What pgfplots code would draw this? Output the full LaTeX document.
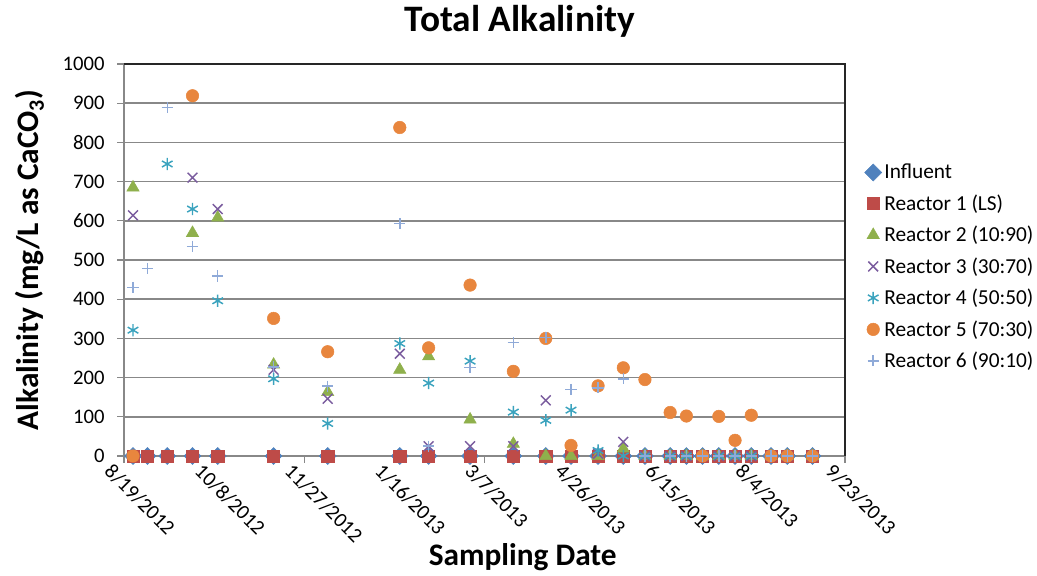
\documentclass[border=0pt]{standalone}
\usepackage{pgfplots}
\pgfplotsset{compat=1.18}
\usepackage{fontspec}
\setmainfont{Carlito}
\definecolor{cInf}{HTML}{4F81BD}
\definecolor{cR1}{HTML}{BE4B48}
\definecolor{cR2}{HTML}{8FB04C}
\definecolor{cR3}{HTML}{7A5C9E}
\definecolor{cR4}{HTML}{3BA3BE}
\definecolor{cR5}{HTML}{E8863E}
\definecolor{cR6}{HTML}{8FAAD8}
\definecolor{gridg}{HTML}{888888}
\begin{document}
\begin{tikzpicture}
\begin{axis}[
  scale only axis, width=540.75pt, height=294pt,
  xmin=0, xmax=400, ymin=0, ymax=1000,
  xtick={0,50,...,400},
  xticklabels={8/19/2012,10/8/2012,11/27/2012,1/16/2013,3/7/2013,4/26/2013,6/15/2013,8/4/2013,9/23/2013},
  ytick={0,100,...,1000},
  /pgf/number format/assume math mode=true,
  /pgf/number format/1000 sep={},
  tick label style={font=\fontsize{15.5}{17}\selectfont},
  xticklabel style={rotate=-45, anchor=north west, xshift=-9pt, yshift=-2pt},
  yticklabel style={xshift=-6pt},
  ymajorgrids, grid style={gridg, line width=1.3pt},
  axis line style={draw=none},
  tick style={gridg, line width=1pt},
  major tick length=5pt, tick align=outside,
  xtick pos=bottom, ytick pos=left,
  clip=false,
  xlabel={Sampling Date},
  ylabel={Alkalinity (mg/L as CaCO$_{\mathbf{3}}$)},
  label style={font=\bfseries\fontsize{23.5}{26}\selectfont},
  xlabel style={at={(rel axis cs:0.553,-0.258)}, anchor=center},
  ylabel style={yshift=7pt},
  legend style={draw=none, fill=none, at={(rel axis cs:1.027,0.752)}, anchor=north west,
    font=\fontsize{16}{18}\selectfont, row sep=6.4pt, inner sep=0pt},
  legend cell align=left,
  legend image code/.code={\draw[#1] (0.25cm,0cm) -- plot coordinates {(0.25cm,0cm)};},
]
\draw[gridg, line width=1.3pt] (rel axis cs:0,0) -- (rel axis cs:0,1);
\draw[gridg, line width=1.3pt] (rel axis cs:0,0) -- (rel axis cs:1,0);
\draw[black!85, line width=1.3pt] (rel axis cs:0,1) -- (rel axis cs:1,1) -- (rel axis cs:1,0);
\node[font=\bfseries\fontsize{28}{32}\selectfont] at (rel axis cs:0.549,1.108) {Total Alkalinity};

\addplot[only marks, mark=square*, mark options={rotate=45, fill=cInf, draw=cInf}, mark size=4.5pt] table {
x y
5 0
13 0
24 0
38 0
52 0
83 0
113 0
153 0
169 0
192 0
216 0
234 0
248 0
263 0
277 0
289 0
303 0
312 0
321 0
330 0
339 0
348 0
359 0
368 0
382 0
};
\addlegendentry{Influent}
\addplot[only marks, mark=square*, mark options={fill=cR1, draw=cR1, rounded corners=1.8pt}, mark size=4.6pt] table {
x y
5 0
13 0
24 0
38 0
52 0
83 0
113 0
153 0
169 0
192 0
216 0
234 0
248 0
263 0
277 0
289 0
303 0
312 0
321 0
330 0
339 0
348 0
359 0
368 0
382 0
};
\addlegendentry{Reactor 1 (LS)}
\addplot[only marks, mark=triangle*, mark options={fill=cR2, draw=cR2}, mark size=5.3pt] table {
x y
5 685
38 569
52 608
83 233
113 163
153 220
169 254
192 93
216 31
234 0
248 0
263 0
277 19
289 0
303 0
312 0
321 0
330 0
339 0
348 0
359 0
368 0
382 0
};
\addlegendentry{Reactor 2 (10:90)}
\addplot[only marks, mark=x, mark options={draw=cR3, line width=1.1pt}, mark size=5.2pt] table {
x y
5 614
38 710
52 630
83 220
113 146
153 261
169 25
192 25
216 25
234 142
263 6
277 36
289 0
303 0
312 0
321 0
330 0
339 0
348 0
359 0
368 0
382 0
};
\addlegendentry{Reactor 3 (30:70)}
\addplot[only marks, mark=asterisk, mark options={draw=cR4, line width=1.1pt}, mark size=4.6pt] table {
x y
5 321
24 745
38 630
52 396
83 197
113 83
153 287
169 186
192 242
216 112
234 91
248 117
263 14
277 0
289 0
303 0
312 0
321 0
330 0
339 0
348 0
359 0
368 0
382 0
};
\addlegendentry{Reactor 4 (50:50)}
\addplot[only marks, mark=*, mark options={fill=cR5, draw=cR5}, mark size=4.7pt] table {
x y
5 0
38 919
83 351
113 266
153 838
169 276
192 436
216 216
234 300
248 27
263 179
277 225
289 195
303 111
312 102
321 0
330 101
339 40
348 104
359 0
368 0
382 0
};
\addlegendentry{Reactor 5 (70:30)}
\addplot[only marks, mark=+, mark options={draw=cR6, line width=1.1pt}, mark size=4.2pt] table {
x y
5 430
13 478
24 889
38 535
52 459
83 227
113 178
153 593
169 25
192 226
216 289
234 302
248 170
263 174
277 197
289 0
303 0
312 0
321 0
330 0
339 0
348 0
359 0
368 0
382 0
};
\addlegendentry{Reactor 6 (90:10)}
\end{axis}
\pgfresetboundingbox
\path ([shift={(-93pt,-89.25pt)}]current axis.south west) rectangle ([shift={(144pt,48pt)}]current axis.north east);
\end{tikzpicture}
\end{document}
